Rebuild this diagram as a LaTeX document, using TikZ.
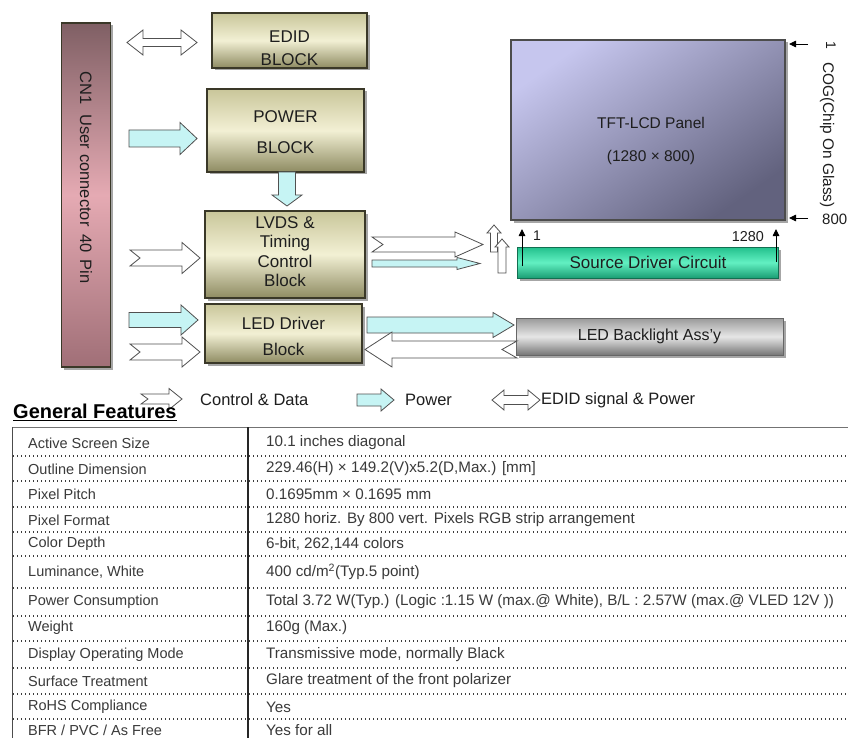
\documentclass[tikz,border=0pt]{standalone}
\usepackage{fontspec}
\setmainfont{Liberation Sans}
\usetikzlibrary{shadows,arrows.meta}
\definecolor{olA}{HTML}{C9C69A}
\definecolor{olB}{HTML}{F2F0D4}
\definecolor{olC}{HTML}{8E8B62}
\definecolor{blkln}{HTML}{3A3828}
\definecolor{cnA}{HTML}{7F5F64}
\definecolor{cnB}{HTML}{E5AAB3}
\definecolor{cnC}{HTML}{A06F77}
\definecolor{panA}{HTML}{C6C6EE}
\definecolor{panB}{HTML}{62627E}
\definecolor{srcA}{HTML}{22C08C}
\definecolor{srcB}{HTML}{62F0C2}
\definecolor{srcC}{HTML}{1A9E74}
\definecolor{lbA}{HTML}{9A9A9A}
\definecolor{lbB}{HTML}{E6E6E6}
\definecolor{lbC}{HTML}{767676}
\definecolor{cyanf}{HTML}{C6F4F4}
\definecolor{arrln}{HTML}{505050}
\definecolor{txtd}{HTML}{1E1E1E}
\definecolor{tabt}{HTML}{3A3A3A}
\definecolor{dotc}{HTML}{3C3C3C}
\newcommand\myfs[2]{\fontsize{#1}{#2}\selectfont}
% horizontal block arrow: style, x tail, x tip, y, body half, head half, head length (signed), notch (signed)
\newcommand\harrow[8]{\draw[#1] ({#2},{#4-#5}) -- ({#3-(#7)},{#4-#5}) -- ({#3-(#7)},{#4-#6}) -- ({#3},{#4}) -- ({#3-(#7)},{#4+#6}) -- ({#3-(#7)},{#4+#5}) -- ({#2},{#4+#5}) -- ({#2+(#8)},{#4}) -- cycle;}
% vertical block arrow: style, y tail, y tip, x, body half, head half, head length (signed), notch
\newcommand\varrow[8]{\draw[#1] ({#4-#5},{#2}) -- ({#4-#5},{#3-(#7)}) -- ({#4-#6},{#3-(#7)}) -- ({#4},{#3}) -- ({#4+#6},{#3-(#7)}) -- ({#4+#5},{#3-(#7)}) -- ({#4+#5},{#2}) -- ({#4},{#2+(#8)}) -- cycle;}
% double block arrow: style, x left tip, x right tip, y, body half, head half, head length
\newcommand\darrow[7]{\draw[#1] ({#2},{#4}) -- ({#2+#7},{#4-#6}) -- ({#2+#7},{#4-#5}) -- ({#3-#7},{#4-#5}) -- ({#3-#7},{#4-#6}) -- ({#3},{#4}) -- ({#3-#7},{#4+#6}) -- ({#3-#7},{#4+#5}) -- ({#2+#7},{#4+#5}) -- ({#2+#7},{#4+#6}) -- cycle;}
\begin{document}
\begin{tikzpicture}[x=1pt,y=-1pt,
  shd/.style={drop shadow={shadow xshift=2.5pt,shadow yshift=-2.5pt,opacity=0.35,fill=black}},
  blk/.style={shd,draw=blkln,line width=1.1pt,top color=olA,bottom color=olC,middle color=olB,inner sep=0pt},
  btxt/.style={align=center,text=txtd,inner sep=0pt,font=\myfs{17}{19}},
  cnbar/.style={shd,draw=blkln,line width=1.1pt,top color=cnA,bottom color=cnC,middle color=cnB,inner sep=0pt},
  panel/.style={shd,draw=black!70,line width=1.1pt,top color=panA,bottom color=panB,shading angle=35,inner sep=0pt},
  srcbar/.style={shd,draw=srcC!70!black,line width=0.8pt,top color=srcA,bottom color=srcC,middle color=srcB,inner sep=0pt},
  lbbar/.style={shd,draw=black!60,line width=0.8pt,top color=lbA,bottom color=lbC,middle color=lbB,inner sep=0pt},
  warr/.style={fill=white,draw=arrln,line width=0.8pt},
  carr/.style={fill=cyanf,draw=arrln,line width=0.8pt},
  barr/.style={draw=black,line width=0.9pt,-{Triangle[length=7pt,width=6.5pt]}},
  ltxt/.style={text=txtd,inner sep=0pt},
  tl/.style={anchor=west,text=tabt,inner sep=0pt,font=\myfs{14.5}{16}},
  tv/.style={anchor=west,text=tabt,inner sep=0pt,font=\myfs{15.2}{17}},
  dotl/.style={draw=dotc,line width=1.3pt,dash pattern=on 1.3pt off 2.7pt},
]
\useasboundingbox (0,0) rectangle (848,738);
\fill[white] (0,0) rectangle (848,738);

% connector bar
\node[cnbar,minimum width=49pt,minimum height=344pt] (cn) at (86,195) {};
\node[ltxt,rotate=-90,font=\myfs{16.5}{18}] (cnt) at (86,177.5) {CN1\hspace{10pt}User connector\hspace{8pt}40\hspace{2pt} Pin};

% blocks
\node[blk,minimum width=155pt,minimum height=55pt] (edid) at (289.5,40.5) {};
\node[btxt,font=\myfs{17}{23}] (edidt) at ([yshift=-8pt]edid.center) {EDID\\BLOCK};
\node[blk,minimum width=157pt,minimum height=83pt] (power) at (285.5,130.5) {};
\node[btxt,font=\myfs{17}{31}] (powert) at ([yshift=-2pt]power.center) {POWER\\BLOCK};
\node[blk,minimum width=160pt,minimum height=87pt] (lvds) at (285,254.5) {};
\node[btxt,font=\myfs{17}{19.3}] (lvdst) at ([yshift=3pt]lvds.center) {LVDS \&\\Timing\\Control\\Block};
\node[blk,minimum width=157pt,minimum height=59pt] (led) at (283.5,333.5) {};
\node[btxt,font=\myfs{17}{26}] (ledt) at ([yshift=-2.5pt]led.center) {LED Driver\\Block};

% panel
\node[panel,minimum width=274pt,minimum height=180pt] (panel) at (648,130) {};
\node[ltxt,font=\myfs{15.5}{33},align=center] (panelt) at (651,140.5) {TFT-LCD Panel\\(1280 × 800)};
\node[srcbar,minimum width=261pt,minimum height=31pt] (src) at (648,262.5) {};
\node[ltxt,font=\myfs{17}{19}] (srct) at (src.center) {Source Driver Circuit};
\node[lbbar,minimum width=267pt,minimum height=37pt] (lb) at (649.5,336.5) {};
\node[ltxt,font=\myfs{16}{18}] (lbt) at (lb.center) {LED Backlight Ass'y};

% left arrows
\darrow{warr}{127}{197}{42.5}{4}{12.5}{16}
\harrow{carr}{129}{197}{138.5}{8.5}{16}{17}{0}
\varrow{carr}{172}{206}{287}{8.5}{15}{11}{0}
\harrow{warr}{130}{200}{258}{8}{15.5}{18}{10}
\harrow{carr}{129}{198}{320}{7.5}{15}{17}{0}
\harrow{warr}{130}{200}{352}{8}{15}{18}{10}

% middle arrows
\harrow{warr}{372}{483}{244.5}{7.5}{12.5}{28}{11}
\harrow{carr}{372}{480}{263.5}{3.5}{6}{23}{0}
\varrow{warr}{252}{225}{494}{3.5}{7}{-8}{0}
\varrow{warr}{273}{239}{502}{4}{7}{-8}{0}
\harrow{carr}{367}{514}{325}{8}{12.5}{21}{0}
\harrow{warr}{517}{365}{349.5}{8.5}{17.5}{-27}{-15}

% panel pointers
\coordinate (p1a) at (808,44);
\coordinate (p1b) at (789,44);
\coordinate (p2a) at (808,218);
\coordinate (p2b) at (789,218);
\draw[barr] (p1a) -- (p1b);
\draw[barr] (p2a) -- (p2b);
\node[ltxt,rotate=-90,font=\myfs{14}{16}] (one1) at (831,45) {1};
\node[ltxt,rotate=-90,font=\myfs{15.4}{17}] (cog) at (827,135) {COG(Chip On Glass)};
\node[ltxt,anchor=west,font=\myfs{15}{17}] (n800) at (822,219) {800};

\coordinate (s1a) at (522,266);
\coordinate (s1b) at (522,229);
\coordinate (s2a) at (776,262);
\coordinate (s2b) at (776,229);
\draw[barr] (s1a) -- (s1b);
\draw[barr] (s2a) -- (s2b);
\node[ltxt,font=\myfs{14}{16}] (one2) at (537,236) {1};
\node[ltxt,anchor=east,font=\myfs{14.4}{16}] (n1280) at (764,237) {1280};

% legend
\harrow{warr}{141}{182}{399}{5}{10.5}{13}{7}
\node[ltxt,anchor=west,font=\myfs{16.5}{18}] (lg1) at (200,400) {Control \& Data};
\harrow{carr}{357}{394}{400}{6}{11}{13}{0}
\node[ltxt,anchor=west,font=\myfs{16.5}{18}] (lg2) at (405,400) {Power};
\darrow{warr}{492}{540}{400}{4.5}{10}{12}
\node[ltxt,anchor=west,font=\myfs{16.5}{18}] (lg3) at (541,400) {EDID signal \& Power};

\node[anchor=west,inner sep=0pt,text=black,font=\bfseries\myfs{20}{22}] (gf) at (13,412) {\underline{General Features}};

% table frame
\draw[draw=black!55,line width=0.9pt] (12,427) -- (848,427);
\draw[draw=black!70,line width=1pt] (12,427) -- (12,738);
\draw[draw=black!85,line width=1.3pt] (248,427) -- (248,738);
\foreach \yy in {456,481,507,532,556,588,616,641,668,694,719}
  \draw[dotl] (13,\yy) -- (848,\yy);

% table text
\node[tl] (l1) at (28,443) {Active Screen Size};
\node[tv] (v1) at (266,443) {10.1 inches diagonal};
\node[tl] (l2) at (28,469) {Outline Dimension};
\node[tv] (v2) at (266,469) {229.46(H) × 149.2(V)x5.2(D,Max.) [mm]};
\node[tl] (l3) at (28,494) {Pixel Pitch};
\node[tv] (v3) at (266,494) {0.1695mm × 0.1695 mm};
\node[tl] (l4) at (28,520) {Pixel Format};
\node[tv] (v4) at (266,520) {1280 horiz. By 800 vert. Pixels RGB strip arrangement};
\node[tl] (l5) at (28,544) {Color Depth};
\node[tv] (v5) at (266,544) {6-bit, 262,144 colors};
\node[tl] (l6) at (28,572) {Luminance, White};
\node[tv] (v6) at (266,572) {400 cd/m\textsuperscript{2}(Typ.5 point)};
\node[tl] (l7) at (28,602) {Power Consumption};
\node[tv] (v7) at (266,602) {Total 3.72 W(Typ.) (Logic :1.15 W (max.@ White), B/L : 2.57W (max.@ VLED 12V ))};
\node[tl] (l8) at (28,628) {Weight};
\node[tv] (v8) at (266,628) {160g (Max.)};
\node[tl] (l9) at (28,655) {Display Operating Mode};
\node[tv] (v9) at (266,655) {Transmissive mode, normally Black};
\node[tl] (l10) at (28,681) {Surface Treatment};
\node[tv] (v10) at (266,681) {Glare treatment of the front polarizer};
\node[tl] (l11) at (28,707) {RoHS Compliance};
\node[tv] (v11) at (266,707) {Yes};
\node[tl] (l12) at (28,730) {BFR / PVC / As Free};
\node[tv] (v12) at (266,730) {Yes for all};
\end{tikzpicture}
\end{document}
